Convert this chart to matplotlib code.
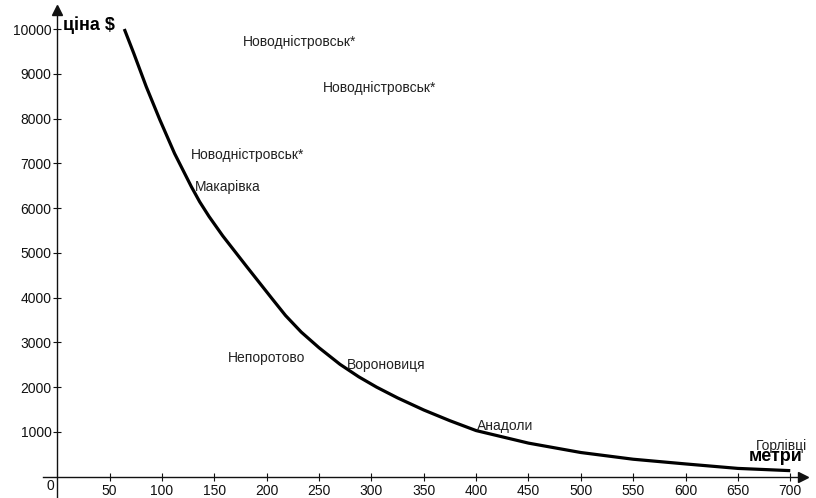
#!/usr/bin/env python3
import matplotlib
matplotlib.use("Agg")
import matplotlib.pyplot as plt

# price curve (metres, $)
metres = [64, 73, 85, 98, 112, 128, 136, 145, 158, 181, 205, 218, 233, 250, 270, 288,
          305, 325, 350, 375, 400, 450, 500, 550, 600, 650, 700]
price = [10000, 9460, 8710, 7970, 7220, 6480, 6140, 5810, 5380, 4690, 3980, 3600, 3230,
         2880, 2510, 2230, 2000, 1760, 1490, 1250, 1030, 750, 540, 390, 285, 185, 135]

# place names and where they sit on the chart
places = ["Новодністровськ*", "Новодністровськ*", "Новодністровськ*", "Макарівка",
          "Непоротово", "Вороновиця", "Анадоли", "Горлівці"]
place_x = [177, 254, 128, 131, 163, 277, 401, 667]
place_y = [9710, 8680, 7190, 6470, 2650, 2500, 1130, 690]

x_ticks = list(range(50, 701, 50))
y_ticks = list(range(1000, 10001, 1000))

plt.rcParams["font.family"] = ["Liberation Sans", "DejaVu Sans"]

fig = plt.figure(figsize=(8.16, 4.98), dpi=100)
ax = fig.add_axes([0, 0, 1, 1])
ax.set_xlim(-54.7, 724.6)
ax.set_ylim(-476, 10648)

for side in ("top", "right"):
    ax.spines[side].set_visible(False)
ax.spines["left"].set_position(("data", 0))
ax.spines["bottom"].set_position(("data", 0))
ax.spines["left"].set_bounds(-476, 10420)
ax.spines["bottom"].set_bounds(-14, 712)
for side in ("left", "bottom"):
    ax.spines[side].set_linewidth(1.0)
    ax.spines[side].set_color("#111111")

# arrow heads
ax.plot([0], [10420], marker="^", color="#111111", markersize=7, clip_on=False)
ax.plot([712], [0], marker=">", color="#111111", markersize=7, clip_on=False)

ax.set_xticks(x_ticks)
ax.set_yticks(y_ticks)
ax.tick_params(axis="both", direction="inout", length=6, width=0.8, colors="#111111",
               labelsize=10)
ax.tick_params(axis="x", pad=2)
ax.tick_params(axis="y", pad=1)

ax.text(-3, -60, "0", ha="right", va="top", fontsize=10, color="#111111")

ax.plot(metres, price, color="black", linewidth=2.3, solid_capstyle="butt",
        solid_joinstyle="round")

for name, px, py in zip(places, place_x, place_y):
    ax.text(px, py, name, ha="left", va="center", fontsize=10, color="#222222")

ax.text(5, 10090, "ціна $", ha="left", va="center", fontsize=13, fontweight="bold",
        color="black")
ax.text(660, 440, "метри", ha="left", va="center", fontsize=13, fontweight="bold",
        color="black")

fig.savefig("out.png", dpi=100)
